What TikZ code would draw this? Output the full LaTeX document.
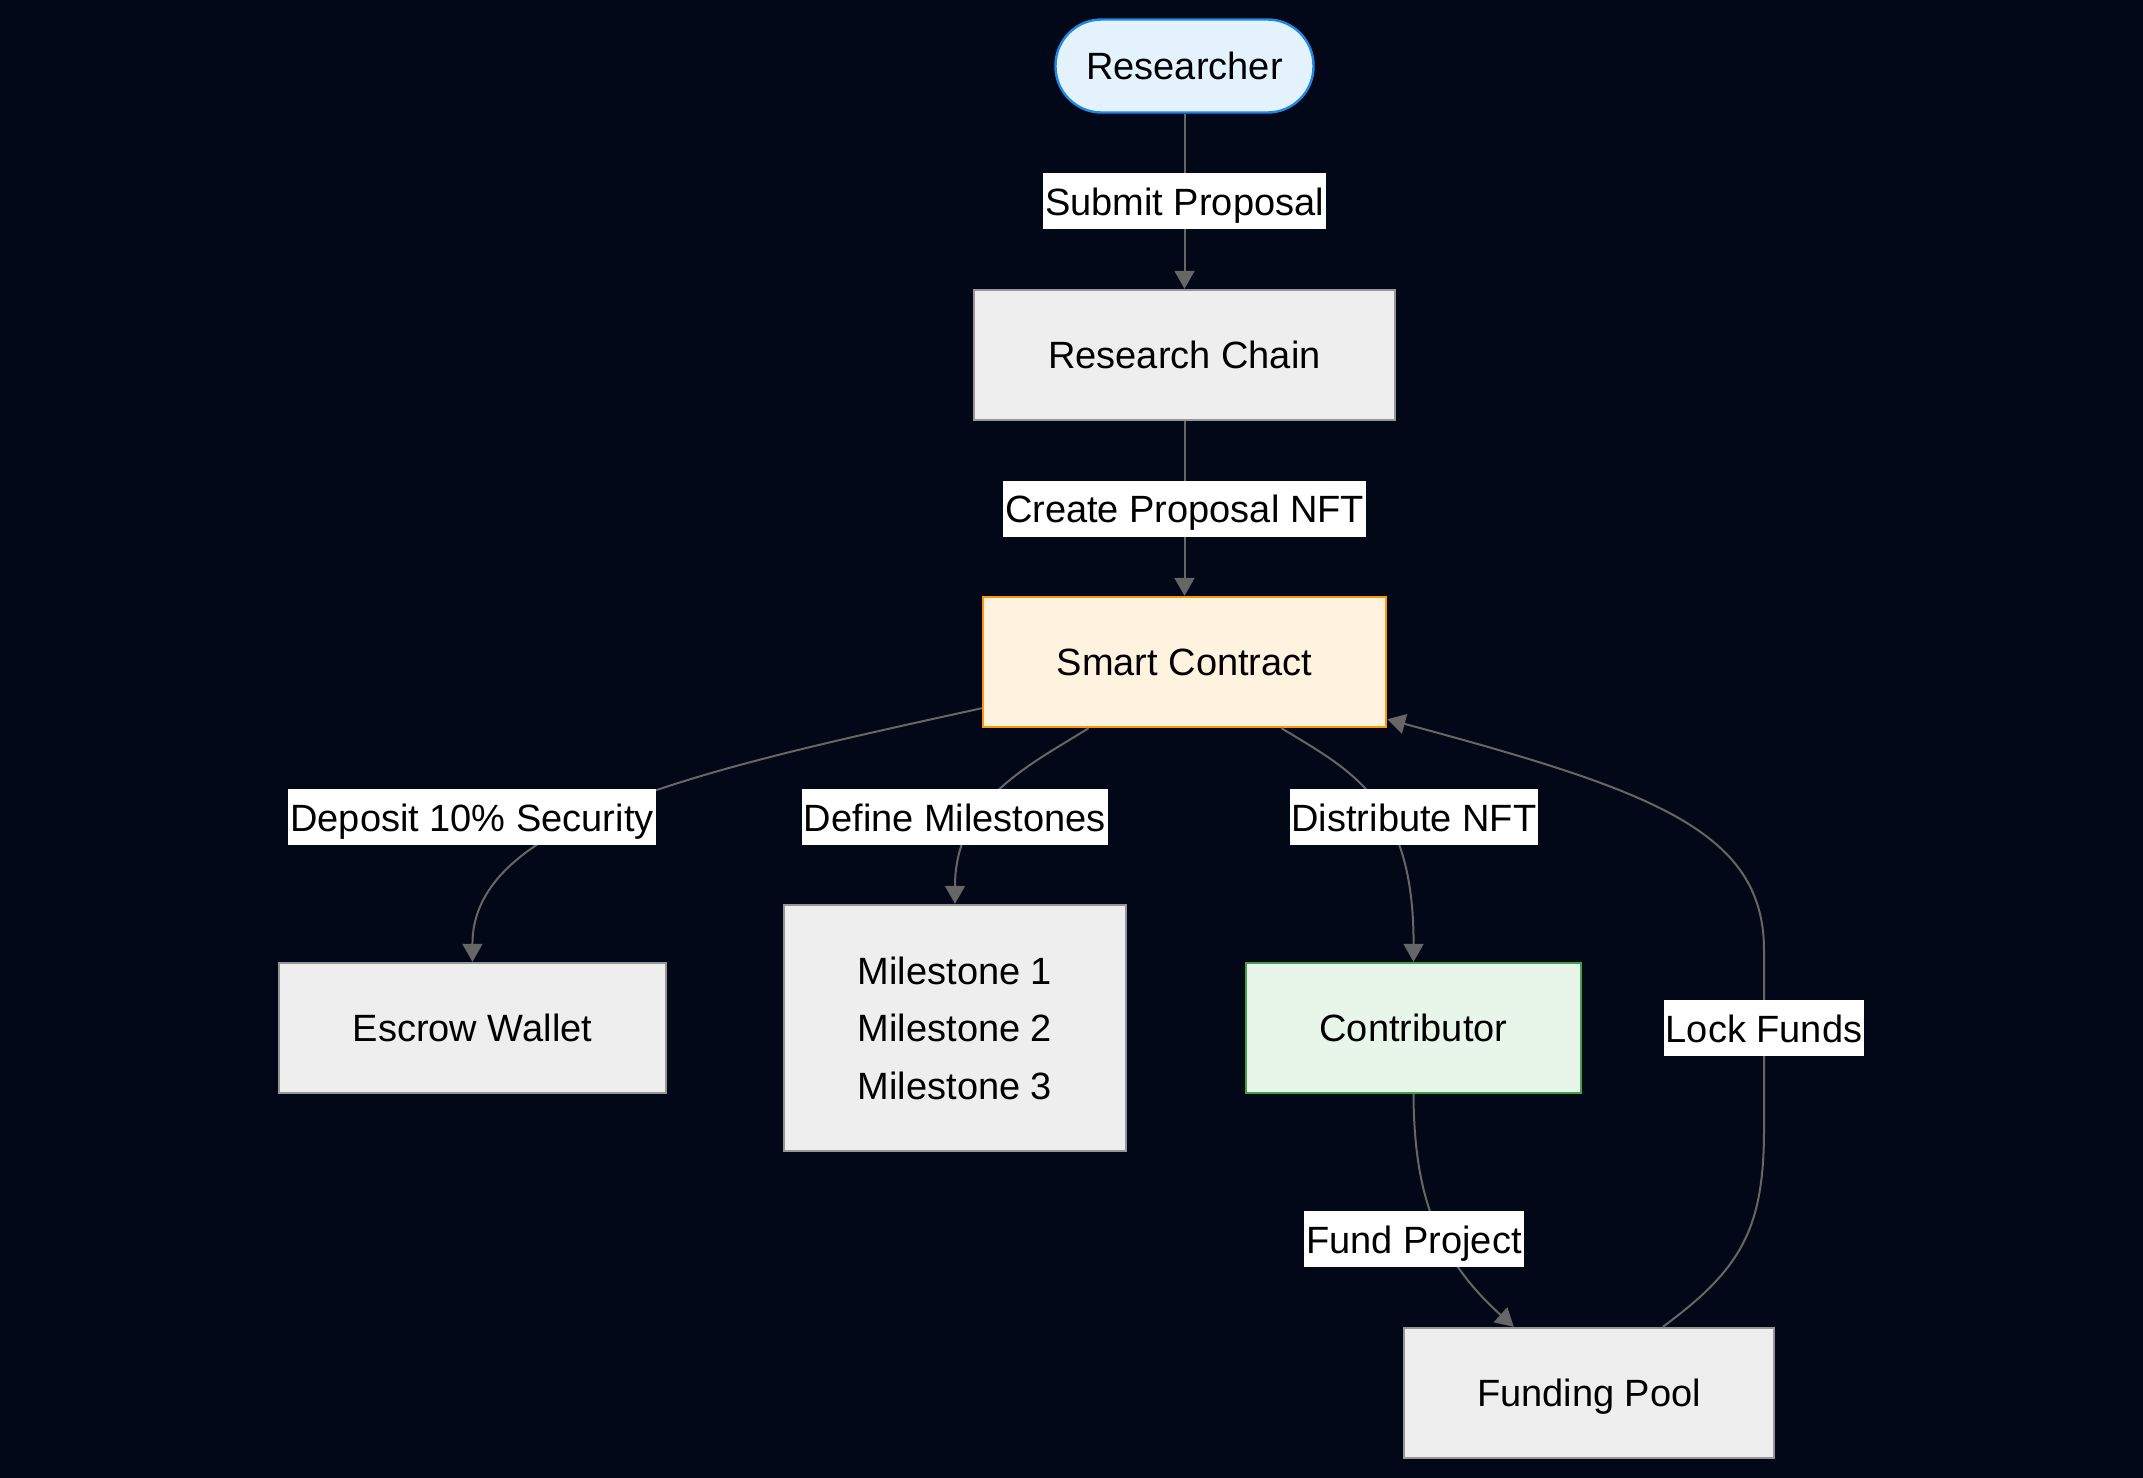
\documentclass[tikz,border=0pt]{standalone}
\usepackage{fontspec}
\setmainfont{Liberation Sans}
\usetikzlibrary{arrows.meta,calc}
\definecolor{bgc}{RGB}{3,8,24}
\definecolor{edgec}{RGB}{102,102,102}
\definecolor{boxfill}{HTML}{EEEEEE}
\definecolor{boxdraw}{RGB}{150,150,150}
\definecolor{rfill}{HTML}{E3F2FD}
\definecolor{rdraw}{HTML}{1E88E5}
\definecolor{sfill}{HTML}{FFF3E0}
\definecolor{sdraw}{HTML}{FF9800}
\definecolor{cfill}{HTML}{E8F5E9}
\definecolor{cdraw}{HTML}{43A047}
\tikzset{
  basen/.style={font=\fontsize{19pt}{28.75pt}\selectfont, text=black, line width=1.2pt, minimum height=65pt, inner sep=0pt, align=center},
  oneline/.style={text height=17.3pt, text depth=4pt},
  box/.style={basen, fill=boxfill, draw=boxdraw},
  startn/.style={basen, oneline, fill=rfill, draw=rdraw, rounded corners=23pt},
  scn/.style={basen, oneline, fill=sfill, draw=sdraw},
  cn/.style={basen, oneline, fill=cfill, draw=cdraw},
  lbl/.style={font=\fontsize{19pt}{23pt}\selectfont, text=black, fill=white, inner xsep=1pt, inner ysep=0pt, minimum height=28pt, text height=14pt, text depth=0pt},
  edge/.style={draw=edgec, line width=1pt, -{Triangle[width=10pt,length=9pt]}}
}
\begin{document}
\begin{tikzpicture}[x=0.5pt,y=-0.5pt]
\useasboundingbox (0,0) rectangle (2143,1478);
\fill[bgc] (0,0) rectangle (2143,1478);

\node[startn, minimum width=129pt, minimum height=46.5pt] (R) at (1184.5,66) {Researcher};
\node[box, oneline, minimum width=210.5pt] (RC) at (1184.5,355) {Research Chain};
\node[scn, minimum width=201.5pt] (SC) at (1184.5,662) {Smart Contract};
\node[box, oneline, minimum width=193.5pt] (EW) at (472.5,1028) {Escrow Wallet};
\node[box, minimum width=171pt, minimum height=123pt] (MS) at (955,1028) {Milestone 1\\Milestone 2\\Milestone 3};
\node[cn, minimum width=167.5pt] (CT) at (1413.5,1028) {Contributor};
\node[box, oneline, minimum width=185pt] (FP) at (1589,1393) {Funding Pool};

\draw[edge] (R) -- node[lbl] {Submit Proposal} (RC);
\draw[edge] (RC) -- node[lbl] {Create Proposal NFT} (SC);

\draw[edge] ($(SC.south west)+(0,-20)$) .. controls (700,770) and (472,820) .. (EW.north);
\draw[edge] ($(SC.south)+(-96,0)$) .. controls (1030,765) and (955,800) .. (MS.north);
\draw[edge] ($(SC.south)+(97,0)$) .. controls (1350,770) and (1414,800) .. (CT.north);
\draw[edge] (CT.south) .. controls (1414,1200) and (1440,1260) .. ($(FP.north west)+(111,0)$);
\draw[edge] ($(FP.north west)+(260,0)$) .. controls (1740,1270) and (1764,1230) .. (1764,1130)
  -- (1764,950) .. controls (1764,830) and (1650,790) .. ($(SC.south east)+(0,-9)$);

\node[lbl] (L3) at (472,817) {Deposit 10\% Security};
\node[lbl] (L4) at (955,817) {Define Milestones};
\node[lbl] (L5) at (1414,817) {Distribute NFT};
\node[lbl] (L6) at (1414,1239) {Fund Project};
\node[lbl] (L7) at (1764,1028) {Lock Funds};
\end{tikzpicture}
\end{document}
